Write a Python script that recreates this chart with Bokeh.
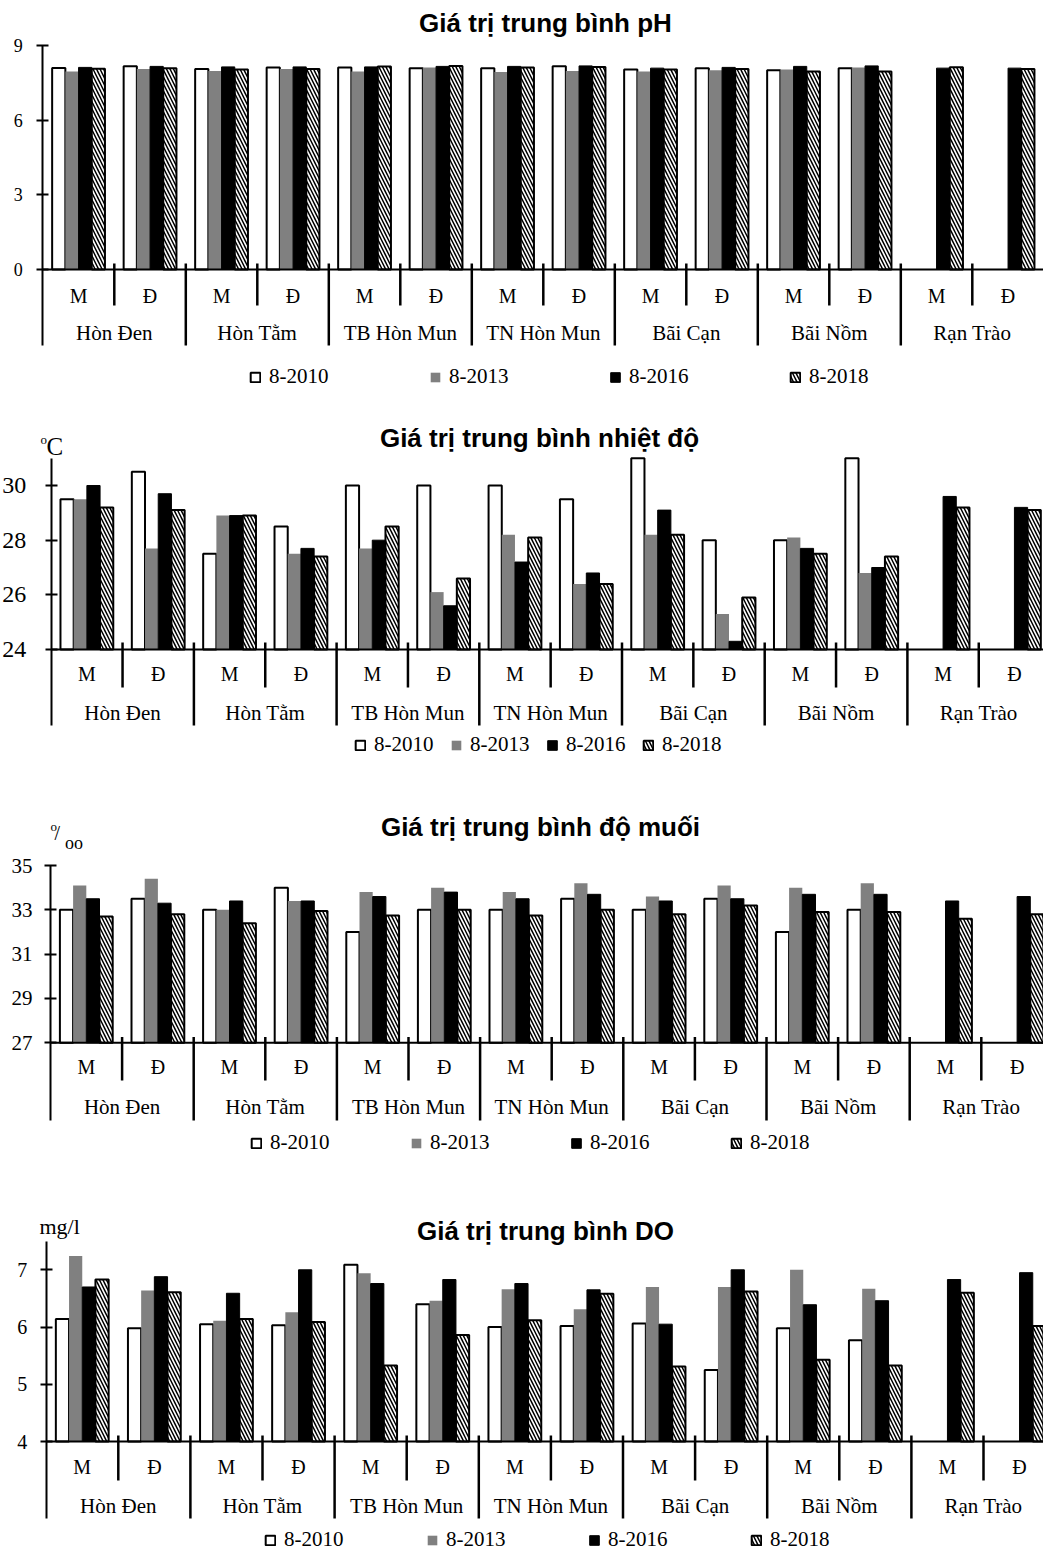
from bokeh.plotting import figure
from bokeh.models import Range1d, FixedTicker, Label, Legend, LegendItem, LinearAxis
from bokeh.layouts import column
from bokeh.embed import file_html
from bokeh.resources import INLINE
from bokeh.core.properties import value

NaN = float("nan")

# ---------------- data ----------------
sites = ["Hòn Đen", "Hòn Tằm", "TB Hòn Mun", "TN Hòn Mun", "Bãi Cạn", "Bãi Nồm", "Rạn Trào"]
sides = ["M", "Đ"]
years = ["8-2010", "8-2013", "8-2016", "8-2018"]

# order: Hòn Đen M, Đ, Hòn Tằm M, Đ, ... Rạn Trào M, Đ
ph_2010 = [8.10, 8.17, 8.06, 8.12, 8.12, 8.09, 8.09, 8.17, 8.04, 8.09, 8.01, 8.09, NaN, NaN]
ph_2013 = [7.95, 8.06, 7.98, 8.06, 7.95, 8.12, 7.93, 7.98, 7.95, 8.01, 8.04, 8.12, NaN, NaN]
ph_2016 = [8.12, 8.16, 8.14, 8.14, 8.14, 8.16, 8.16, 8.18, 8.09, 8.12, 8.16, 8.18, 8.09, 8.09]
ph_2018 = [8.07, 8.09, 8.04, 8.06, 8.16, 8.18, 8.12, 8.14, 8.04, 8.06, 7.95, 7.95, 8.13, 8.06]

t_2010 = [29.5, 30.5, 27.5, 28.5, 30.0, 30.0, 30.0, 29.5, 31.0, 28.0, 28.0, 31.0, NaN, NaN]
t_2013 = [29.5, 27.7, 28.9, 27.5, 27.7, 26.1, 28.2, 26.4, 28.2, 25.3, 28.1, 26.8, NaN, NaN]
t_2016 = [30.0, 29.7, 28.9, 27.7, 28.0, 25.6, 27.2, 26.8, 29.1, 24.3, 27.7, 27.0, 29.6, 29.2]
t_2018 = [29.2, 29.1, 28.9, 27.4, 28.5, 26.6, 28.1, 26.4, 28.2, 25.9, 27.5, 27.4, 29.2, 29.1]

s_2010 = [33.0, 33.5, 33.0, 34.0, 32.0, 33.0, 33.0, 33.5, 33.0, 33.5, 32.0, 33.0, NaN, NaN]
s_2013 = [34.1, 34.4, 33.0, 33.4, 33.8, 34.0, 33.8, 34.2, 33.6, 34.1, 34.0, 34.2, NaN, NaN]
s_2016 = [33.5, 33.3, 33.4, 33.4, 33.6, 33.8, 33.5, 33.7, 33.4, 33.5, 33.7, 33.7, 33.4, 33.6]
s_2018 = [32.7, 32.8, 32.4, 32.95, 32.75, 33.0, 32.75, 33.0, 32.8, 33.2, 32.9, 32.9, 32.6, 32.8]

do_2010 = [6.14, 5.98, 6.05, 6.03, 7.09, 6.40, 6.00, 6.02, 6.06, 5.25, 5.98, 5.77, NaN, NaN]
do_2013 = [7.24, 6.64, 6.11, 6.26, 6.94, 6.46, 6.66, 6.31, 6.70, 6.70, 7.00, 6.67, NaN, NaN]
do_2016 = [6.70, 6.88, 6.59, 7.00, 6.76, 6.83, 6.76, 6.65, 6.05, 7.00, 6.39, 6.46, 6.83, 6.95]
do_2018 = [6.83, 6.61, 6.14, 6.09, 5.33, 5.86, 6.12, 6.58, 5.31, 6.62, 5.43, 5.33, 6.60, 6.02]

titles = ["Giá trị trung bình pH", "Giá trị trung bình nhiệt độ",
          "Giá trị trung bình độ muối", "Giá trị trung bình DO"]
ticks_ph = [0, 3, 6, 9]
ticks_t = [24, 26, 28, 30]
ticks_s = [27, 29, 31, 33, 35]
ticks_do = [4, 5, 6, 7]

# ---------------- styles ----------------
SERIF = "Liberation Serif"
SANS = "Liberation Sans"
STYLES = [
    dict(fill_color="white", line_color="black", line_width=2),
    dict(fill_color="#808080", line_color=None),
    dict(fill_color="black", line_color="black", line_width=1),
    dict(fill_color="white", line_color="black", line_width=2,
         hatch_pattern="\\", hatch_color="black", hatch_scale=7, hatch_weight=1.5),
]
PAGE_W = 1043


def make_panel(title, series, y0, ytop, ticks, c):
    fig_top, fig_h = c["fig_top"], c["fig_h"]
    fig_bot = fig_top + fig_h
    ax, sw, y0p, upx = c["axis_x"], c["sub_w"], c["y0_page"], c["upx"]

    def val(page_y):
        return y0 + (y0p - page_y) / upx

    x_start = -ax / sw
    x_end = (PAGE_W - ax) / sw
    p = figure(width=PAGE_W, height=fig_h, output_backend="svg", toolbar_location=None,
               x_range=Range1d(x_start, x_end), y_range=Range1d(val(fig_bot), val(fig_top)),
               x_axis_location=None, y_axis_location=None,
               min_border=0, min_border_left=0, min_border_right=0,
               min_border_top=0, min_border_bottom=0)
    p.title.visible = False
    p.outline_line_color = None
    p.grid.visible = False
    p.background_fill_color = "white"
    p.border_fill_color = "white"

    # y axis fixed at the first category boundary
    yax = LinearAxis(fixed_location=0, ticker=FixedTicker(ticks=ticks),
                     bounds=(val(c["grp_bot"]), ytop))
    yax.axis_line_width = 2
    yax.axis_line_color = "black"
    yax.major_tick_line_width = 2
    yax.major_tick_line_color = "black"
    yax.major_tick_in = 6
    yax.major_tick_out = 6
    yax.minor_tick_line_color = None
    yax.major_label_text_font = SERIF
    yax.major_label_text_font_size = c["tick_size"]
    yax.major_label_text_color = "black"
    yax.major_label_standoff = c["tick_standoff"]
    p.add_layout(yax, "left")

    n = len(series[0])
    bw = 13.2 / sw
    rends = []
    for s, vals in enumerate(series):
        xs = [j + 0.5 + (s - 1.5) * bw for j in range(n)]
        rends.append(p.vbar(x=xs, top=vals, bottom=y0, width=bw, **STYLES[s]))

    # category (x) axis line
    p.segment(x0=[0], x1=[x_end], y0=[y0], y1=[y0], line_color="black", line_width=2)

    # separators between M / Đ and between sites
    bx_sub = [b for b in range(1, n) if b % 2 == 1]
    bx_grp = [b for b in range(1, n) if b % 2 == 0]
    p.segment(x0=bx_sub, x1=bx_sub, y0=val(c["sep_top"]), y1=val(c["sub_bot"]),
              line_color="black", line_width=2.5)
    p.segment(x0=bx_grp, x1=bx_grp, y0=val(c["sep_top"]), y1=val(c["grp_bot"]),
              line_color="black", line_width=2.5)

    sub_x = [j + 0.5 for j in range(n)]
    sub_t = [sides[j % 2] for j in range(n)]
    p.text(x=sub_x, y=val(c["sub_lab"]), text=sub_t, text_font=value(SERIF),
           text_font_size="20px", text_align="center", text_baseline="middle",
           text_color="black")
    grp_x = [2 * k + 1 for k in range(len(sites))]
    p.text(x=grp_x, y=val(c["grp_lab"]), text=sites, text_font=value(SERIF),
           text_font_size="21px", text_align="center", text_baseline="middle",
           text_color="black")

    legend = Legend(items=[LegendItem(label=years[i], renderers=[rends[i]]) for i in range(4)],
                    orientation="horizontal",
                    location=(c["leg_x"], fig_bot - c["leg_y"] - 12),
                    spacing=int(round(c["leg_pitch"] - 12 - 8 - 60)),
                    glyph_width=12, glyph_height=12, label_standoff=8, label_width=60,
                    padding=0, margin=0, border_line_color=None, background_fill_alpha=0,
                    label_text_font=SERIF, label_text_font_size="21px",
                    label_text_color="black")
    p.add_layout(legend)

    # chart title
    p.add_layout(Label(x=c["title_x"], y=fig_bot - c["title_y"], x_units="screen",
                       y_units="screen", text=title, text_font=SANS,
                       text_font_style="bold", text_font_size="26px", text_color="black",
                       text_align="center", text_baseline="middle"))
    # unit label
    for txt, px, py, size in c.get("units", []):
        p.add_layout(Label(x=px, y=fig_bot - py, x_units="screen", y_units="screen",
                           text=txt, text_font=SERIF, text_font_size=size,
                           text_color="black", text_align="left", text_baseline="middle"))
    return p


cfg_ph = dict(fig_top=0, fig_h=405, axis_x=42.3, sub_w=71.5, y0_page=269, upx=24.89,
              sep_top=263, sub_bot=305, grp_bot=345, sub_lab=295, grp_lab=332,
              leg_x=249, leg_y=377, leg_pitch=180, tick_size="18px", tick_standoff=14,
              title_x=545, title_y=22)
cfg_t = dict(fig_top=405, fig_h=370, axis_x=50.7, sub_w=71.35, y0_page=649, upx=27.33,
             sep_top=642, sub_bot=687, grp_bot=725, sub_lab=673, grp_lab=712,
             leg_x=354, leg_y=745, leg_pitch=96.3, tick_size="24px", tick_standoff=19,
             title_x=539, title_y=437,
             units=[("o", 40, 439, "13px"), ("C", 46, 446, "25px")])
cfg_s = dict(fig_top=775, fig_h=395, axis_x=50, sub_w=71.6, y0_page=1042.3, upx=22.16,
             sep_top=1036.5, sub_bot=1080, grp_bot=1120, sub_lab=1066.7, grp_lab=1106.7,
             leg_x=250, leg_y=1143, leg_pitch=160, tick_size="21px", tick_standoff=12,
             title_x=540, title_y=826,
             units=[("o", 50, 826, "13px"), ("/", 54, 832, "20px"),
                    ("oo", 64.5, 842, "18px")])
cfg_do = dict(fig_top=1170, fig_h=383, axis_x=45.7, sub_w=72.1, y0_page=1441, upx=57.23,
              sep_top=1435, sub_bot=1480, grp_bot=1518, sub_lab=1466.7, grp_lab=1505,
              leg_x=264, leg_y=1540, leg_pitch=161.7, tick_size="20px", tick_standoff=13,
              title_x=545, title_y=1230,
              units=[("mg/l", 39, 1226, "22px")])

p1 = make_panel(titles[0], [ph_2010, ph_2013, ph_2016, ph_2018], 0, 9, ticks_ph, cfg_ph)
p2 = make_panel(titles[1], [t_2010, t_2013, t_2016, t_2018], 24, 31, ticks_t, cfg_t)
p3 = make_panel(titles[2], [s_2010, s_2013, s_2016, s_2018], 27, 35, ticks_s, cfg_s)
p4 = make_panel(titles[3], [do_2010, do_2013, do_2016, do_2018], 4, 7.5, ticks_do, cfg_do)

layout = column(p1, p2, p3, p4, spacing=0)
open("out.html", "w").write(file_html(layout, INLINE))
